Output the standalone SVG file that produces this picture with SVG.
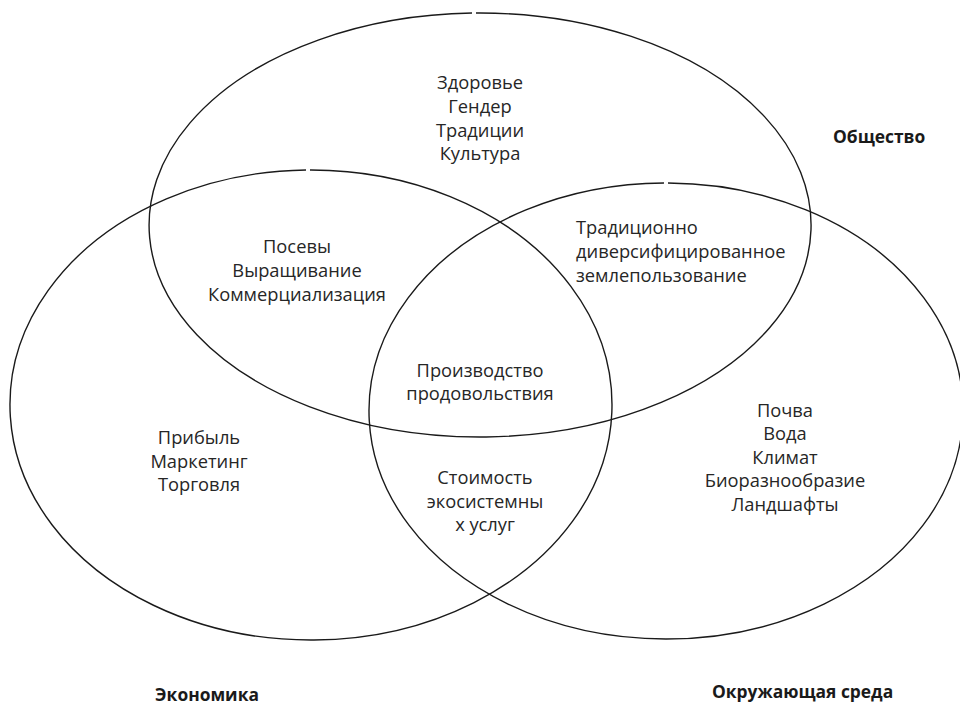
<svg xmlns="http://www.w3.org/2000/svg" width="960" height="706" viewBox="0 0 960 706">
<style>
.c{fill:none;stroke:#1a1a1a;stroke-width:1.4}
.t{font-family:"Open Sans","Noto Sans","DejaVu Sans",sans-serif;font-size:18.3px;fill:#262626}
.m{text-anchor:middle}
.b{font-family:"Open Sans","Noto Sans","DejaVu Sans",sans-serif;font-size:17.4px;font-weight:bold;fill:#1a1a1a}
</style>
<rect width="960" height="706" fill="#fff"/>
<g id="connectors">
<path id="society" class="c" d="M476 13.015 A331 212 0 1 1 472 13.062"/>
<path id="economy" class="c" d="M310 170.001 A301 235 0 1 1 306 170.032"/>
<path id="environment" class="c" d="M668 183.005 A297 228 0 1 1 664 183.005"/>
</g>
<g id="n-society-only">
<text class="t m" x="480" y="89">Здоровье</text>
<text class="t m" x="480" y="113">Гендер</text>
<text class="t m" x="480" y="137">Традиции</text>
<text class="t m" x="480" y="160">Культура</text>
</g>
<g id="n-society-economy">
<text class="t m" x="297" y="253">Посевы</text>
<text class="t m" x="297" y="277">Выращивание</text>
<text class="t m" x="297" y="301">Коммерциализация</text>
</g>
<g id="n-society-environment">
<text class="t" x="576" y="234">Традиционно</text>
<text class="t" x="576" y="258">диверсифицированное</text>
<text class="t" x="576" y="282">землепользование</text>
</g>
<g id="n-center">
<text class="t m" x="480" y="377">Производство</text>
<text class="t m" x="480" y="400">продовольствия</text>
</g>
<g id="n-economy-only">
<text class="t m" x="199" y="444">Прибыль</text>
<text class="t m" x="199" y="468">Маркетинг</text>
<text class="t m" x="199" y="491">Торговля</text>
</g>
<g id="n-economy-environment">
<text class="t m" x="485" y="484">Стоимость</text>
<text class="t m" x="485" y="508">экосистемны</text>
<text class="t m" x="485" y="531">х услуг</text>
</g>
<g id="n-environment-only">
<text class="t m" x="785" y="417">Почва</text>
<text class="t m" x="785" y="440">Вода</text>
<text class="t m" x="785" y="464">Климат</text>
<text class="t m" x="785" y="487">Биоразнообразие</text>
<text class="t m" x="785" y="511">Ландшафты</text>
</g>
<g id="l-society"><text class="b" x="833" y="143">Общество</text></g>
<g id="l-economy"><text class="b m" x="207" y="701">Экономика</text></g>
<g id="l-environment"><text class="b" x="712" y="698">Окружающая среда</text></g>
</svg>
